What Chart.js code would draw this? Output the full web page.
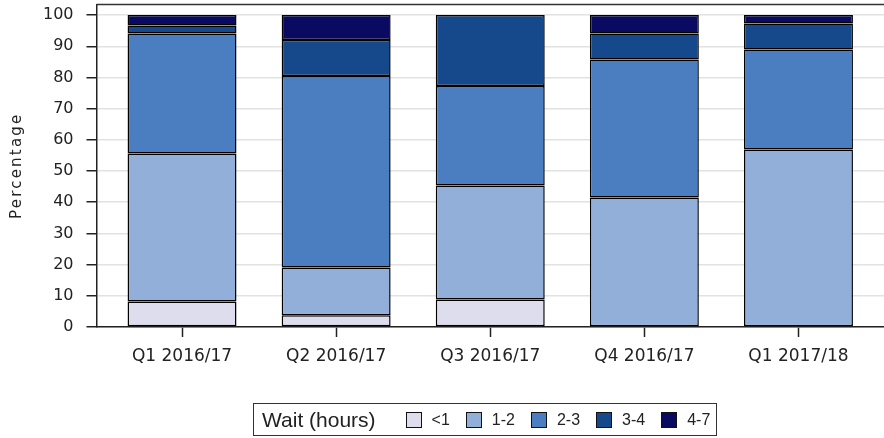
<!DOCTYPE html>
<html>
<head>
<meta charset="utf-8">
<script src="https://cdn.jsdelivr.net/npm/chart.js@4/dist/chart.umd.min.js"></script>
<style>
    body { margin: 0; background: #fff; }
    #wrap { position: relative; width: 884px; height: 438px; }
    #legend {
        position: absolute; left: 253px; top: 403px; width: 462px; height: 31px;
        border: 1.5px solid #333; display: flex; align-items: center;
        font-family: 'Liberation Sans', Arial, sans-serif; color: #222;
        white-space: nowrap; overflow: hidden;
    }
    #legend .title { font-size: 21px; margin-left: 8px; margin-right: 14px; flex-shrink: 0; }
    #legend .item { display: flex; align-items: center; margin-left: 16px; font-size: 16px; flex-shrink: 0; }
    #legend .box { width: 14px; height: 14px; border: 1.5px solid #111; margin-right: 10px; }
</style>
</head>
<body>
<div id="wrap">
    <canvas id="waitChart"></canvas>
    <div id="legend"></div>
</div>
<script>
// Quarters shown on the x axis
const quarters = ['Q1 2016/17', 'Q2 2016/17', 'Q3 2016/17', 'Q4 2016/17', 'Q1 2017/18'];

// Share of patients (%) per wait band, one value per quarter
const under1 = [8.2, 3.8, 8.8, 0, 0];
const hours1to2 = [47.4, 15.3, 36.6, 41.5, 56.9];
const hours2to3 = [38.5, 61.4, 31.9, 44.3, 32.1];
const hours3to4 = [2.6, 11.5, 22.7, 8.3, 8.3];
const hours4to7 = [3.3, 8.0, 0, 5.9, 2.7];

const bandLabels = ['<1', '1-2', '2-3', '3-4', '4-7'];
const bandColors = ['#dddded', '#91afd9', '#4b7ec0', '#16488c', '#0a0a62'];
const yTicks = [0, 10, 20, 30, 40, 50, 60, 70, 80, 90, 100];

const bandValues = [under1, hours1to2, hours2to3, hours3to4, hours4to7];

const datasets = bandValues.map((values, i) => ({
    label: bandLabels[i],
    data: values.map((v, q) => ({ x: q, y: v })),
    backgroundColor: bandColors[i],
    borderColor: '#000',
    borderWidth: 1.5,
    borderSkipped: false,
    categoryPercentage: 1,
    barPercentage: 0.707
}));

// top frame line + rotated y title (with letter spacing)
const framePlugin = {
    id: 'frame',
    afterDraw(chart) {
        const { ctx, chartArea } = chart;
        ctx.save();
        ctx.strokeStyle = '#333';
        ctx.lineWidth = 1.5;
        ctx.beginPath();
        ctx.moveTo(chartArea.left, chartArea.top);
        ctx.lineTo(chartArea.right, chartArea.top);
        ctx.stroke();

        ctx.translate(17, (chartArea.top + chartArea.bottom) / 2);
        ctx.rotate(-Math.PI / 2);
        ctx.font = '15px "DejaVu Sans"';
        ctx.letterSpacing = '2.2px';
        ctx.fillStyle = '#222';
        ctx.textAlign = 'center';
        ctx.textBaseline = 'middle';
        ctx.fillText('Percentage', 0, 0);
        ctx.restore();
    }
};

new Chart(document.getElementById('waitChart'), {
    type: 'bar',
    data: { datasets },
    plugins: [framePlugin],
    options: {
        responsive: true,
        maintainAspectRatio: false,
        animation: false,
        layout: { padding: { left: 0, top: 4.5, right: 0, bottom: 0 } },
        plugins: {
            legend: { display: false },
            tooltip: { enabled: false }
        },
        scales: {
            x: {
                type: 'linear',
                offset: false,
                min: -0.555,
                max: 4.555,
                stacked: true,
                afterBuildTicks: (scale) => {
                    scale.ticks = quarters.map((_, i) => ({ value: i }));
                },
                afterFit: (scale) => {
                    scale.height = 111;
                    scale.paddingLeft = 0;
                    scale.paddingRight = 0;
                },
                grid: {
                    offset: false,
                    drawOnChartArea: false,
                    drawTicks: true,
                    tickLength: 10,
                    tickColor: '#222',
                    tickWidth: 1.5
                },
                border: { display: true, color: '#222', width: 1.5 },
                ticks: {
                    autoSkip: false,
                    maxRotation: 0,
                    padding: 9,
                    color: '#222',
                    font: { family: 'DejaVu Sans', size: 17 },
                    callback: (value) => quarters[value]
                }
            },
            y: {
                stacked: true,
                min: 0,
                max: 103.4,
                afterBuildTicks: (scale) => {
                    scale.ticks = yTicks.map(v => ({ value: v }));
                },
                afterFit: (scale) => {
                    scale.width = 96.5;
                    scale.paddingTop = 0;
                    scale.paddingBottom = 0;
                },
                grid: {
                    color: '#e2e2e2',
                    lineWidth: 1.5,
                    tickLength: 10,
                    tickColor: '#222',
                    tickWidth: 1.5
                },
                border: { display: true, color: '#222', width: 1.5 },
                ticks: {
                    padding: 13,
                    color: '#222',
                    font: { family: 'DejaVu Sans', size: 16 }
                }
            }
        }
    }
});

// legend built from the same bands
const legend = document.getElementById('legend');
const title = document.createElement('span');
title.className = 'title';
title.textContent = 'Wait (hours)';
legend.appendChild(title);
bandLabels.forEach((label, i) => {
    const item = document.createElement('span');
    item.className = 'item';
    const box = document.createElement('span');
    box.className = 'box';
    box.style.background = bandColors[i];
    const text = document.createElement('span');
    text.textContent = label;
    item.appendChild(box);
    item.appendChild(text);
    legend.appendChild(item);
});
</script>
</body>
</html>
